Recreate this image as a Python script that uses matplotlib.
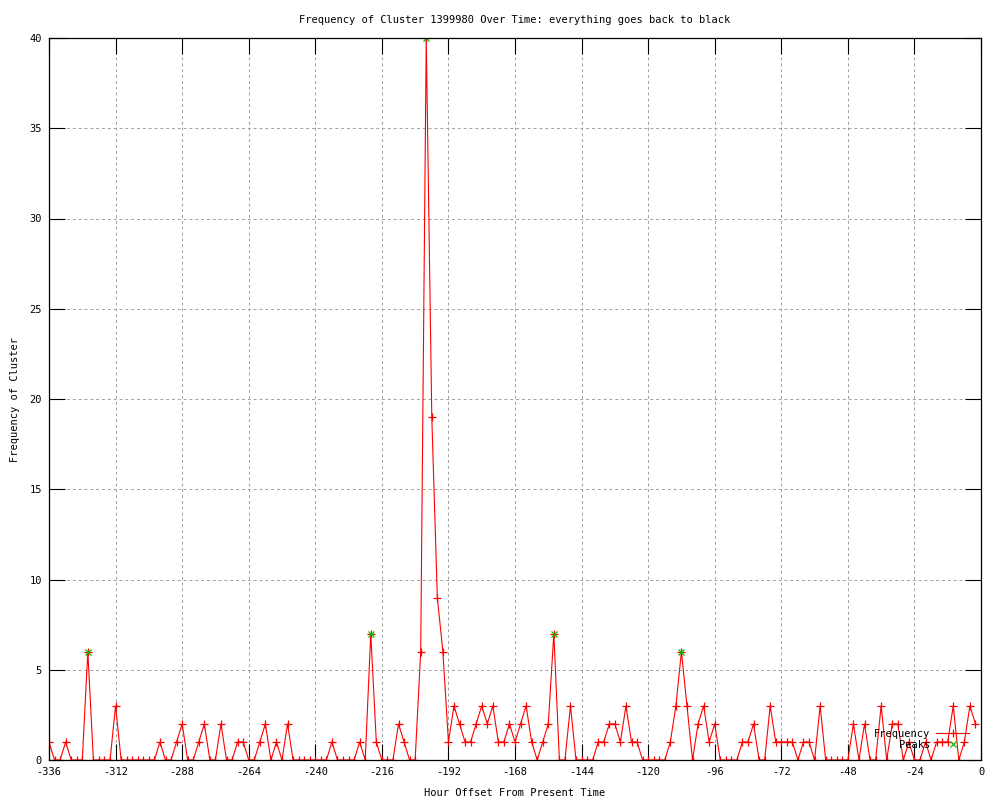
import numpy as np
import matplotlib
matplotlib.use("Agg")
import matplotlib.pyplot as plt

# hour offsets, every 2 hours from -336 up to -2
hours = np.arange(-336, 0, 2)

freq = [
    1, 0, 0, 1, 0, 0, 0, 6, 0, 0, 0, 0,      # -336 .. -314
    3, 0, 0, 0, 0, 0, 0, 0, 1, 0, 0, 1,      # -312 .. -290
    2, 0, 0, 1, 2, 0, 0, 2, 0, 0, 1, 1,      # -288 .. -266
    0, 0, 1, 2, 0, 1, 0, 2, 0, 0, 0, 0,      # -264 .. -242
    0, 0, 0, 1, 0, 0, 0, 0, 1, 0, 7, 1,      # -240 .. -218
    0, 0, 0, 2, 1, 0, 0, 6, 40, 19, 9, 6,    # -216 .. -194
    1, 3, 2, 1, 1, 2, 3, 2, 3, 1, 1, 2,      # -192 .. -170
    1, 2, 3, 1, 0, 1, 2, 7, 0, 0, 3, 0,      # -168 .. -146
    0, 0, 0, 1, 1, 2, 2, 1, 3, 1, 1, 0,      # -144 .. -122
    0, 0, 0, 0, 1, 3, 6, 3, 0, 2, 3, 1,      # -120 .. -98
    2, 0, 0, 0, 0, 1, 1, 2, 0, 0, 3, 1,      # -96 .. -74
    1, 1, 1, 0, 1, 1, 0, 3, 0, 0, 0, 0,      # -72 .. -50
    0, 2, 0, 2, 0, 0, 3, 0, 2, 2, 0, 1,      # -48 .. -26
    0, 0, 1, 0, 1, 1, 1, 3, 0, 1, 3, 2,      # -24 .. -2
]

peak_hours = [-322, -220, -200, -154, -108]
peak_freq = [6, 7, 40, 7, 6]

xticks = np.arange(-336, 1, 24)
yticks = np.arange(0, 41, 5)

font = {"family": "DejaVu Sans Mono", "size": 7.5}

fig = plt.figure(figsize=(10, 8), dpi=100)
ax = fig.add_axes([0.049, 0.05, 0.932, 0.9025])

ax.plot(hours, freq, color="#ff0000", lw=0.8, marker="+", ms=6, mew=0.9,
        label="Frequency")
ax.plot(peak_hours, peak_freq, ls="none", color="#00c000", marker="x", ms=5,
        mew=0.9, label="Peaks")

ax.set_xlim(-336, 0)
ax.set_ylim(0, 40)
ax.set_xticks(xticks)
ax.set_yticks(yticks)
ax.set_xticklabels([str(t) for t in xticks], fontdict=font)
ax.set_yticklabels([str(t) for t in yticks], fontdict=font)
ax.tick_params(direction="in", length=11.5, width=0.8, top=True, right=True,
               pad=5)

ax.grid(True, color="#a0a0a0", lw=0.7, ls=(0, (3, 3)))
for s in ax.spines.values():
    s.set_linewidth(0.9)

ax.set_title("Frequency of Cluster 1399980 Over Time: everything goes back to black",
             fontdict=font, pad=11)
ax.set_xlabel("Hour Offset From Present Time", fontdict=font, labelpad=8)
ax.set_ylabel("Frequency of Cluster", fontdict=font, labelpad=7)

leg = ax.legend(loc="lower right", bbox_to_anchor=(0.998, 0.0), frameon=False,
                markerfirst=False, prop=font, handlelength=3.1,
                handletextpad=0.6, labelspacing=0.05, borderaxespad=0.6)

fig.savefig("out.png", dpi=100)
